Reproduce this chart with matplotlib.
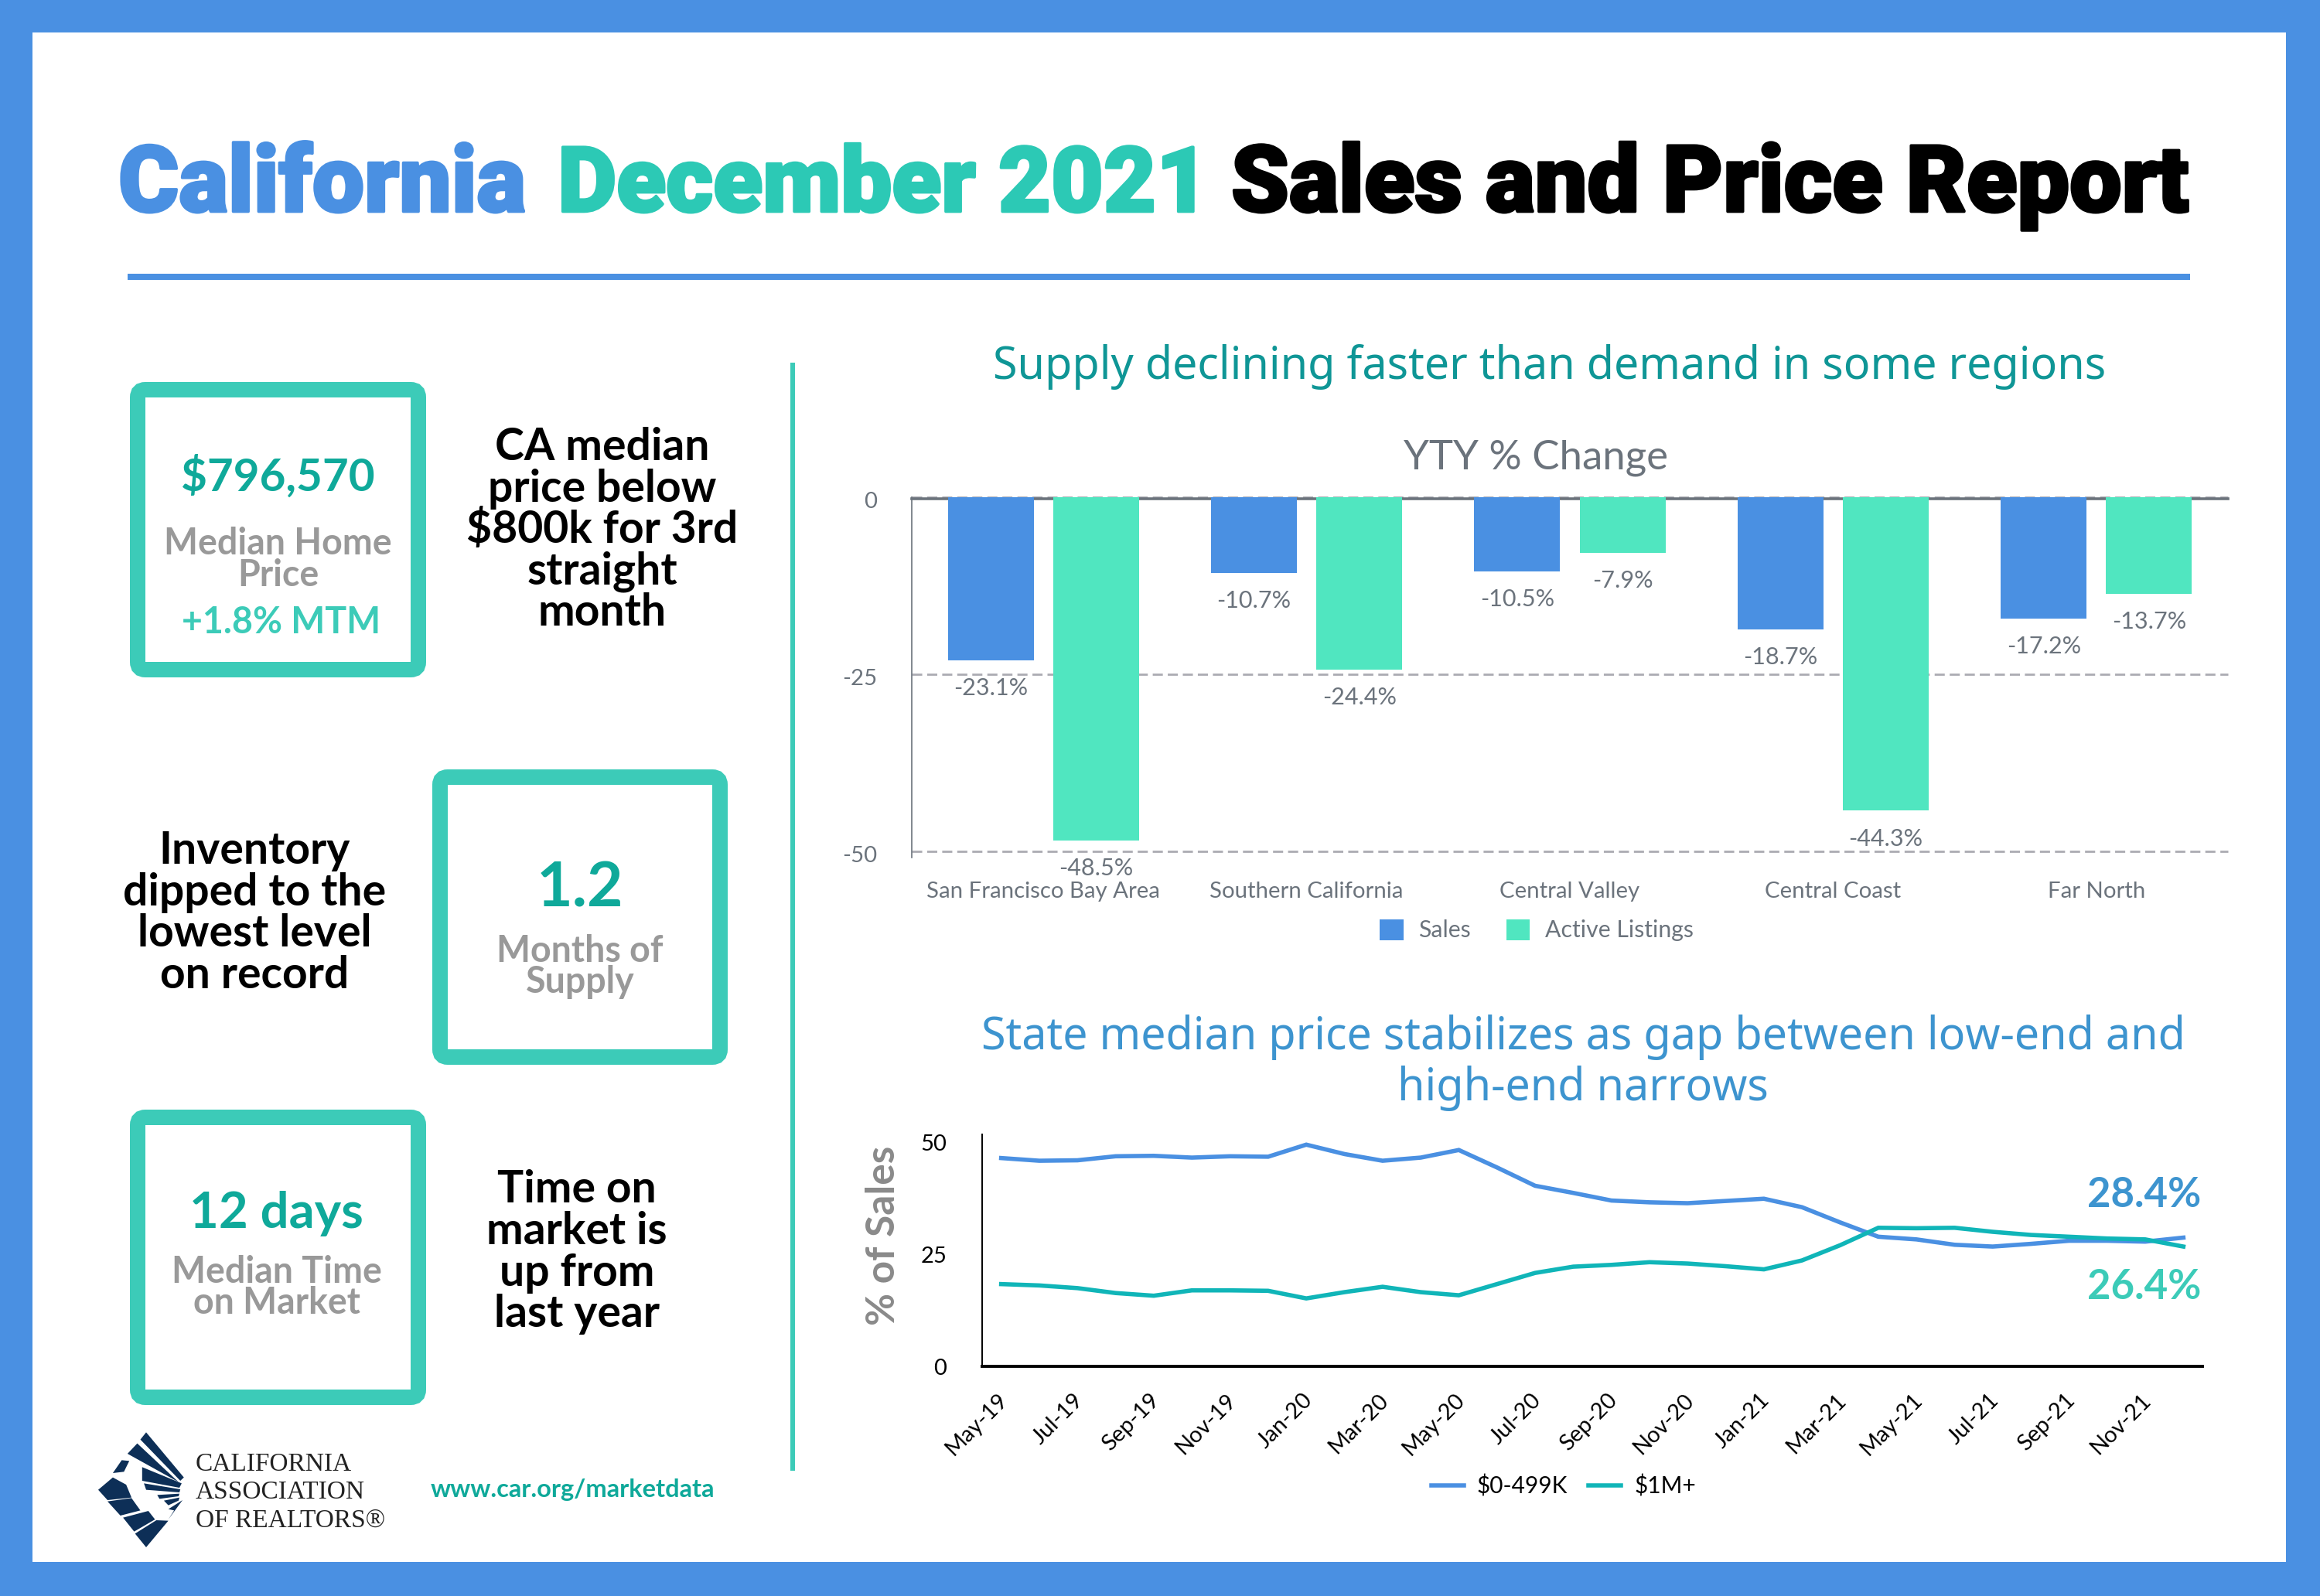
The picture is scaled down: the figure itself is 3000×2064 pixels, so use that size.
import matplotlib
matplotlib.use("Agg")
import matplotlib.pyplot as plt
import matplotlib.patheffects as pe
import numpy as np
from matplotlib.patches import FancyBboxPatch, Polygon, Rectangle
from matplotlib.transforms import ScaledTranslation

W, H = 3000, 2064
S = W / 1568  # layout was measured on a 1568 wide view

regions = ["San Francisco Bay Area", "Southern California", "Central Valley", "Central Coast", "Far North"]
sales = [-23.1, -10.7, -10.5, -18.7, -17.2]
listings = [-48.5, -24.4, -7.9, -44.3, -13.7]
bar_ticks = [0, -25, -50]

months = ["May-19", "Jun-19", "Jul-19", "Aug-19", "Sep-19", "Oct-19", "Nov-19", "Dec-19",
          "Jan-20", "Feb-20", "Mar-20", "Apr-20", "May-20", "Jun-20", "Jul-20", "Aug-20",
          "Sep-20", "Oct-20", "Nov-20", "Dec-20", "Jan-21", "Feb-21", "Mar-21", "Apr-21",
          "May-21", "Jun-21", "Jul-21", "Aug-21", "Sep-21", "Oct-21", "Nov-21", "Dec-21"]
low_end = [46.6, 46.0, 46.1, 47.0, 47.1, 46.7, 47.0, 46.9, 49.6, 47.5, 46.0, 46.7, 48.4, 44.5, 40.4, 38.8,
           37.1, 36.7, 36.5, 37.0, 37.5, 35.6, 32.2, 29.0, 28.4, 27.2, 26.8, 27.4, 28.1, 28.1, 27.9, 28.8]
high_end = [18.4, 18.1, 17.5, 16.4, 15.8, 17.0, 17.0, 16.9, 15.2, 16.6, 17.8, 16.6, 15.9, 18.4, 20.9, 22.3,
            22.7, 23.3, 23.0, 22.4, 21.7, 23.7, 27.1, 31.0, 30.9, 31.0, 30.1, 29.4, 29.0, 28.6, 28.4, 26.8]
line_ticks = [0, 25, 50]

BLUE = "#4A90E2"
MINT = "#50E6C0"
TEAL = "#3CCBB8"
DTEAL = "#0FA99A"
TITLE_TEAL = "#2CC9B5"
LINE_TEAL = "#10B5B8"
GRAY = "#6B737C"
LGRAY = "#999999"
NAVY = "#0D2F57"
SANS = ["Noto Sans", "DejaVu Sans"]
LATO = ["Lato", "DejaVu Sans"]
TITLE_FONT = ["Roboto", "DejaVu Sans"]

plt.rcParams["axes.unicode_minus"] = False

fig = plt.figure(figsize=(W / 100, H / 100), dpi=100, facecolor="white")
bg = fig.add_axes([0, 0, 1, 1])
bg.set_xlim(0, W)
bg.set_ylim(H, 0)
bg.axis("off")


def txt(x, y, s, size, color, weight="normal", family=LATO, **kw):
    return bg.text(x * S, y * S, s, fontsize=size, color=color, fontweight=weight, family=family,
                   ha=kw.pop("ha", "center"), va=kw.pop("va", "baseline"), **kw)


# frame and rules
for r in [(0, 0, W, 42), (0, 2020, W, 44), (0, 0, 42, H), (2956, 0, 44, H)]:
    bg.add_patch(Rectangle(r[:2], r[2], r[3], color=BLUE, lw=0))
bg.add_patch(Rectangle((165, 354), 2667, 8, color=BLUE, lw=0))
bg.add_patch(Rectangle((1022, 469), 6, 1433, color=TEAL, lw=0))

# title, the stroke makes up for the heavier display face of the original
for x, s, c, size in [(80, "California", BLUE, 86), (377, "December 2021", TITLE_TEAL, 84.5),
                      (832, "Sales and Price Report", "black", 86.5)]:
    t = txt(x, 143, s, size, c, "black", TITLE_FONT, ha="left")
    t.set_path_effects([pe.withStroke(linewidth=2.5, foreground=c)])

# stat boxes
for x0, y0, x1, y1 in [(178, 504, 541, 866), (569, 1005, 931, 1367), (178, 1445, 541, 1807)]:
    bg.add_patch(FancyBboxPatch((x0, y0), x1 - x0, y1 - y0, boxstyle="round,pad=0,rounding_size=10",
                                fc="white", ec=TEAL, lw=14.4))

txt(188, 332, "$796,570", 42, DTEAL, "bold")
txt(188, 375, "Median Home", 33.5, LGRAY, "bold")
txt(188, 396, "Price", 33.5, LGRAY, "bold")
txt(190, 428, "+1.8% MTM", 33.5, TEAL, "bold")
txt(392, 613, "1.2", 58, DTEAL, "bold")
txt(392, 650, "Months of", 33.5, LGRAY, "bold")
txt(392, 671, "Supply", 33.5, LGRAY, "bold")
txt(187, 830, "12 days", 47, DTEAL, "bold")
txt(187, 867, "Median Time", 33.5, LGRAY, "bold")
txt(187, 888, "on Market", 33.5, LGRAY, "bold")

for cx, ys, lines in [
    (407, [311, 339, 367, 395, 423], ["CA median", "price below", "$800k for 3rd", "straight", "month"]),
    (172, [584, 612, 640, 668], ["Inventory", "dipped to the", "lowest level", "on record"]),
    (390, [813, 841, 869, 897], ["Time on", "market is", "up from", "last year"]),
]:
    for y, s in zip(ys, lines):
        txt(cx, y, s, 41, "black", "bold")

# headings
txt(1047, 256, "Supply declining faster than demand in some regions", 41.4, "#0F9696", family=SANS)
txt(1070, 709, "State median price stabilizes as gap between low-end and", 41.4, "#3D94CF", family=SANS)
txt(1070, 744, "high-end narrows", 41.4, "#3D94CF", family=SANS)
txt(1038, 317, "YTY % Change", 38, GRAY)

# logo
logo_polys = [
    [(155, 97), (240, 272), (232, 285), (142, 125)],
    [(135, 140), (228, 290), (113, 180)],
    [(100, 205), (117, 208), (105, 250), (80, 255)],
    [(80, 272), (47, 320), (68, 360), (122, 350), (110, 300)],
    [(68, 365), (122, 352), (142, 400), (97, 420)],
    [(103, 428), (160, 402), (175, 435), (128, 482)],
    [(130, 490), (178, 438), (205, 440), (155, 543)],
    [(146, 232), (235, 295), (230, 312), (146, 285)],
    [(150, 295), (232, 318), (230, 330), (155, 320)],
    [(180, 340), (230, 335), (228, 345), (185, 355)],
    [(195, 362), (230, 350), (228, 362), (205, 380)],
    [(205, 395), (237, 360), (205, 435), (218, 400)],
]
for poly in logo_polys:
    bg.add_patch(Polygon([(100 + px / 1.742, 1820 + py / 3) for px, py in poly], color=NAVY, lw=0))
for y, s in [(994, "CALIFORNIA"), (1013, "ASSOCIATION"), (1032, "OF REALTORS®")]:
    txt(132, y, s, 24, "#222222", family=["Liberation Serif", "DejaVu Serif"], ha="left")
txt(387, 1012, "www.car.org/marketdata", 23.5, DTEAL, "bold")

# bar chart
ax = fig.add_axes([1179 / W, 1 - 1108.5 / H, (2881 - 1179) / W, (1108.5 - 642.5) / H], facecolor="none")
xs = np.arange(len(regions))
w = 0.326
ax.set_axisbelow(True)
ax.bar(xs - 0.2, sales, w, color=BLUE, label="Sales", zorder=3)
ax.bar(xs + 0.2, listings, w, color=MINT, label="Active Listings", zorder=3)
ax.set_xlim(-0.5, 4.5)
ax.set_ylim(-50.85, 0)
ax.set_yticks(bar_ticks)
ax.set_xticks(xs, regions)
ax.yaxis.grid(True, color="#ABABB2", ls=(0, (4.7, 2.3)), lw=2.0, clip_on=False)
ax.tick_params(length=0, labelsize=21.2, labelcolor=GRAY)
ax.tick_params(axis="x", pad=23)
ax.tick_params(axis="y", pad=32)
for lab in ax.get_xticklabels() + ax.get_yticklabels():
    lab.set_family(LATO)
nudge = ScaledTranslation(0, -3 / 72, fig.dpi_scale_trans)
for lab in ax.get_yticklabels():
    lab.set_transform(lab.get_transform() + nudge)
for name in ["top", "right", "bottom"]:
    ax.spines[name].set_visible(False)
ax.spines["left"].set_color(GRAY)
ax.spines["left"].set_linewidth(1.2)
ax.axhline(-0.25, color=GRAY, lw=2.6, zorder=2, clip_on=False)
for i in xs:
    for off, v in [(-0.2, sales[i]), (0.2, listings[i])]:
        ax.annotate(f"{v}%", (i + off, v), xytext=(0, -26), textcoords="offset points",
                    ha="center", va="center", fontsize=22, color=GRAY, family=LATO, annotation_clip=False)
ax.legend(loc="center", bbox_to_anchor=(1987 / W, 1 - 1203 / H), bbox_transform=fig.transFigure,
          ncol=2, frameon=False, labelcolor=GRAY, handlelength=1, handleheight=1,
          columnspacing=1.5, handletextpad=0.66, prop={"family": LATO, "size": 21.8})

# line chart
ax2 = fig.add_axes([1270 / W, 1 - 1767 / H, (2848 - 1270) / W, (1767 - 1467) / H], facecolor="none")
ax2.plot(months, low_end, color=BLUE, lw=4, label="$0-499K", solid_joinstyle="miter")
ax2.plot(months, high_end, color=LINE_TEAL, lw=4, label="$1M+", solid_joinstyle="miter")
ax2.set_xlim(-0.5, 31.5)
ax2.set_ylim(0, 51.9)
ax2.set_yticks(line_ticks)
ax2.set_xticks(range(0, len(months), 2), months[::2], rotation=45, ha="right", rotation_mode="anchor")
ax2.tick_params(length=0, labelsize=21, labelcolor="black")
ax2.tick_params(axis="x", pad=22)
ax2.tick_params(axis="y", pad=33)
for lab in ax2.get_xticklabels() + ax2.get_yticklabels():
    lab.set_family(LATO)
shift = ScaledTranslation(-4 / 72, 0, fig.dpi_scale_trans)
for lab in ax2.get_xticklabels():
    lab.set_transform(lab.get_transform() + shift)
for name in ["top", "right"]:
    ax2.spines[name].set_visible(False)
ax2.spines["left"].set_linewidth(1.4)
ax2.spines["bottom"].set_linewidth(2.8)
ax2.legend(loc="center", bbox_to_anchor=(2022 / W, 1 - 1922 / H), bbox_transform=fig.transFigure,
           ncol=2, frameon=False, handlelength=1.4, columnspacing=0.9, handletextpad=0.58,
           prop={"family": LATO, "size": 21.5})

txt(1449, 816, "28.4%", 38, "#3D94CF", "bold")
txt(1449, 878, "26.4%", 38, TEAL, "bold")
txt(597, 835, "% of Sales", 37, "#8A8A8A", "bold", rotation=90, va="center", rotation_mode="anchor")

fig.savefig("out.png", dpi=100)
